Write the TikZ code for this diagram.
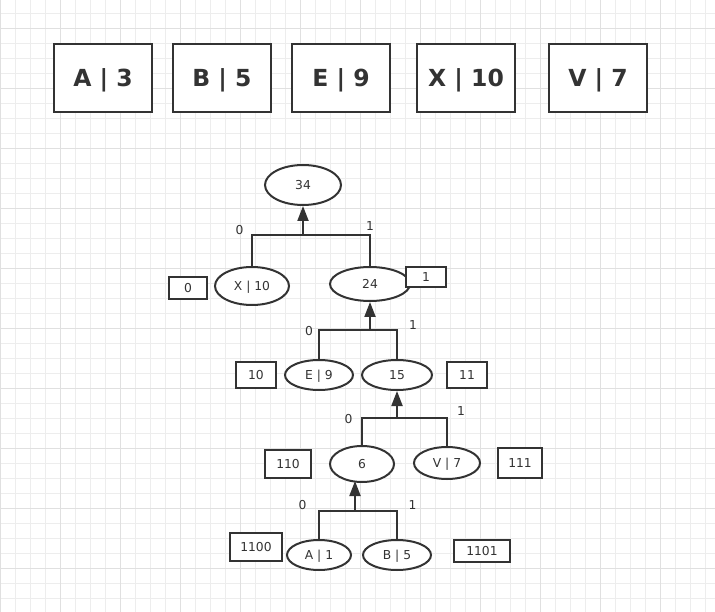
\documentclass[tikz,border=0pt]{standalone}
\usepackage{fontspec}
\setmainfont{DejaVu Sans}
\usetikzlibrary{arrows.meta,shapes.geometric}
\definecolor{ink}{HTML}{333333}
\definecolor{gridminor}{HTML}{EDEDED}
\definecolor{gridmajor}{HTML}{E0E0E0}
\begin{document}
\begin{tikzpicture}[x=1pt,y=-1pt,
  smallfont/.style={font=\fontsize{12.3}{14}\selectfont, text height=9pt, text depth=0pt},
  ell/.style={ellipse, draw=ink, line width=2pt, fill=white, inner sep=0pt, text=ink, smallfont},
  codebox/.style={rectangle, draw=ink, line width=2pt, fill=white, inner sep=0pt, text=ink, smallfont},
  bigbox/.style={rectangle, draw=ink, line width=2pt, fill=white, inner sep=0pt, text=ink,
    minimum width=98, minimum height=68, text height=17pt, text depth=0pt,
    font=\fontsize{23.5}{27}\bfseries\selectfont},
  bit/.style={text=ink, inner sep=0pt, smallfont},
  edge/.style={draw=ink, line width=2pt},
  up/.style={draw=ink, line width=2pt, -{Triangle[length=15pt,width=11pt]}}
]
\useasboundingbox (0,0) rectangle (715,612);
\fill[white] (0,0) rectangle (715,612);
% grid
\foreach \gx in {0,15,...,715} \draw[gridminor, line width=1pt] (\gx+0.5,0) -- (\gx+0.5,612);
\foreach \gy in {13,28,...,612} \draw[gridminor, line width=1pt] (0,\gy+0.5) -- (715,\gy+0.5);
\foreach \gx in {0,60,...,715} \draw[gridmajor, line width=1pt] (\gx+0.5,0) -- (\gx+0.5,612);
\foreach \gy in {28,88,...,612} \draw[gridmajor, line width=1pt] (0,\gy+0.5) -- (715,\gy+0.5);

% top boxes
\node[bigbox] (bA) at (103,78) {A | 3};
\node[bigbox] (bB) at (222,78) {B | 5};
\node[bigbox] (bE) at (341,78) {E | 9};
\node[bigbox] (bX) at (466,78) {X | 10};
\node[bigbox] (bV) at (598,78) {V | 7};

% tree nodes
\node[ell, minimum width=76, minimum height=40] (n34) at (303,185) {34};
\node[ell, minimum width=74, minimum height=38] (nX) at (252,286) {X | 10};
\node[ell, minimum width=80, minimum height=34] (n24) at (370,284) {24};
\node[ell, minimum width=68, minimum height=30] (nE) at (319,375) {E | 9};
\node[ell, minimum width=70, minimum height=30] (n15) at (397,375) {15};
\node[ell, minimum width=64, minimum height=36] (n6) at (362,464) {6};
\node[ell, minimum width=66, minimum height=32] (nV) at (447,463) {V | 7};
\node[ell, minimum width=64, minimum height=30] (nA) at (319,555) {A | 1};
\node[ell, minimum width=68, minimum height=30] (nB) at (397,555) {B | 5};

% code boxes
\node[codebox, minimum width=38, minimum height=22] (c0) at (188,288) {0};
\node[codebox, minimum width=40, minimum height=20] (c1) at (426,277) {1};
\node[codebox, minimum width=40, minimum height=26] (c10) at (256,375) {10};
\node[codebox, minimum width=40, minimum height=26] (c11) at (467,375) {11};
\node[codebox, minimum width=46, minimum height=28] (c110) at (288,464) {110};
\node[codebox, minimum width=44, minimum height=30] (c111) at (520,463) {111};
\node[codebox, minimum width=52, minimum height=28] (c1100) at (256,547) {1100};
\node[codebox, minimum width=56, minimum height=22] (c1101) at (482,551) {1101};

% junctions
\coordinate (j1) at (303,235);
\coordinate (j2) at (370,330);
\coordinate (j3) at (397,418);
\coordinate (j4) at (355,511);

% connectors
\draw[edge] (nX.north) |- (j1) -| (n24.north);
\draw[up] (j1) -- (n34.south);
\draw[edge] (nE.north) |- (j2) -| (n15.north);
\draw[up] (j2) -- (n24.south);
\draw[edge] (n6.north) |- (j3) -| (nV.north);
\draw[up] (j3) -- (n15.south);
\draw[edge] (nA.north) |- (j4) -| (nB.north);
\draw[up] (j4) -- (j4 |- 0,481);

% bit labels
\node[bit] (l0a) at (239.5,230) {0};
\node[bit] (l1a) at (370,226) {1};
\node[bit] (l0b) at (309,331) {0};
\node[bit] (l1b) at (413,325) {1};
\node[bit] (l0c) at (348.5,419) {0};
\node[bit] (l1c) at (461,411) {1};
\node[bit] (l0d) at (302.5,505) {0};
\node[bit] (l1d) at (412.5,505) {1};
\end{tikzpicture}
\end{document}
